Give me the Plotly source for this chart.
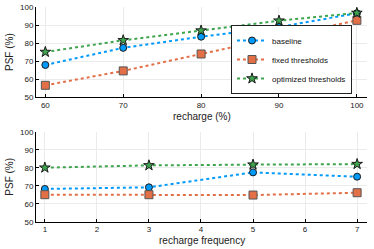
import plotly.graph_objects as go

recharge = [60, 70, 80, 90, 100]
top_baseline = [67.8, 77.3, 83.5, 88.9, 96.5]
top_fixed = [56.5, 64.5, 73.9, 83.2, 92.6]
top_optimized = [75.0, 81.5, 86.9, 92.4, 96.7]

freq = [1, 3, 5, 7]
bot_baseline = [68.2, 69.1, 77.4, 75.0]
bot_fixed = [65.0, 65.0, 64.8, 66.1]
bot_optimized = [80.0, 81.3, 81.7, 82.0]

names = ["baseline", "fixed thresholds", "optimized thresholds"]
colors = ["#009AFA", "#E36F47", "#3EA44E"]
symbols = ["circle", "square", "star"]
sizes = [7, 8, 8]
strokes = ["#1a1a1a", "#555555", "#1a1a1a"]

FONT = "Liberation Sans, Arial, sans-serif"
W, H = 374, 249

fig = go.Figure()

for i, (ys, name) in enumerate(zip([top_baseline, top_fixed, top_optimized], names)):
    fig.add_trace(go.Scatter(
        x=recharge, y=ys, name=name, mode="lines+markers",
        line=dict(color=colors[i], width=2, dash="dot"),
        marker=dict(symbol=symbols[i], size=sizes[i], color=colors[i],
                    line=dict(color=strokes[i], width=1)),
        xaxis="x", yaxis="y", showlegend=True))

for i, (ys, name) in enumerate(zip([bot_baseline, bot_fixed, bot_optimized], names)):
    fig.add_trace(go.Scatter(
        x=freq, y=ys, name=name, mode="lines+markers",
        line=dict(color=colors[i], width=2, dash="dot"),
        marker=dict(symbol=symbols[i], size=sizes[i], color=colors[i],
                    line=dict(color=strokes[i], width=1)),
        xaxis="x2", yaxis="y2", showlegend=False))

axis_common = dict(
    showgrid=True, gridcolor="#EBEBEB", gridwidth=1,
    showline=True, linecolor="black", linewidth=1,
    ticks="inside", ticklen=3, tickcolor="black",
    tickfont=dict(size=8, color="#222222", family=FONT),
    zeroline=False, mirror=False, automargin=False,
)

xl, xr = 36 / W, 367 / W
fig.update_layout(
    width=W, height=H,
    margin=dict(l=0, r=0, t=0, b=0, autoexpand=False),
    paper_bgcolor="white", plot_bgcolor="white",
    font=dict(family=FONT, color="#222222"),
    xaxis=dict(domain=[xl, xr], anchor="y", range=[58.8, 101.3],
               tickvals=[60, 70, 80, 90, 100], **axis_common),
    yaxis=dict(domain=[1 - 97 / H, 1 - 7 / H], anchor="x", range=[50, 100],
               tickvals=[50, 60, 70, 80, 90, 100], **axis_common),
    xaxis2=dict(domain=[xl, xr], anchor="y2", range=[0.83, 7.19],
                tickvals=[1, 2, 3, 4, 5, 6, 7], **axis_common),
    yaxis2=dict(domain=[1 - 221.7 / H, 1 - 131.7 / H], anchor="x2", range=[50, 100],
                tickvals=[50, 60, 70, 80, 90, 100], **axis_common),
    legend=dict(x=352 / W, y=1 - 94 / H, xanchor="right", yanchor="bottom",
                bgcolor="white", bordercolor="#222222", borderwidth=1,
                font=dict(size=8, family=FONT, color="#111111"), tracegroupgap=0,
                itemwidth=30),
    showlegend=True,
)

title_font = dict(size=10, family=FONT, color="#222222")
annots = [
    dict(text="recharge (%)", x=(36 + 367) / 2 / W, y=1 - 116 / H),
    dict(text="recharge frequency", x=(36 + 367) / 2 / W, y=1 - 240 / H),
    dict(text="PSF (%)", x=10 / W, y=1 - 52 / H, textangle=-90),
    dict(text="PSF (%)", x=10 / W, y=1 - 176.7 / H, textangle=-90),
]
for a in annots:
    fig.add_annotation(xref="paper", yref="paper", showarrow=False,
                       xanchor="center", yanchor="middle", font=title_font, **a)

fig.write_html("out.html", config={"displayModeBar": False},
               post_script="document.body.style.margin='0';document.body.style.overflow='hidden';")
